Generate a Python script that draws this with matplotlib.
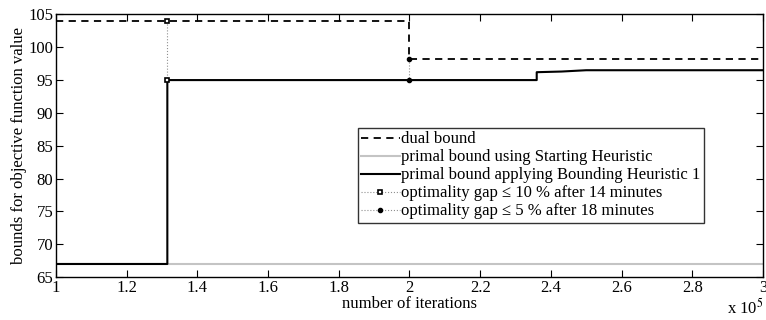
import numpy as np
import matplotlib
matplotlib.use('Agg')
import matplotlib.pyplot as plt

plt.rcParams['font.family'] = ['Liberation Serif', 'DejaVu Serif']
plt.rcParams['mathtext.fontset'] = 'stix'

# iterations in units of 1e5
dual_x = [1.0, 2.0, 2.0, 3.0]
dual_y = [104.0, 104.0, 98.2, 98.2]

start_x = [1.0, 3.0]
start_y = [67.0, 67.0]

bound_x = [1.0, 1.315, 1.315, 2.36, 2.36, 2.43, 2.50, 3.0]
bound_y = [67.0, 67.0, 95.0, 95.0, 96.2, 96.3, 96.5, 96.5]

gap10_x = [1.315, 1.315]
gap10_y = [104.0, 95.0]
gap5_x = [2.0, 2.0]
gap5_y = [98.2, 95.0]

fs = 12

fig = plt.figure(figsize=(7.66, 3.2), dpi=100)
ax = fig.add_axes([0.0731, 0.134, 0.9229, 0.821])

ax.plot(dual_x, dual_y, 'k--', lw=1.3, dashes=(4, 3), label='dual bound')
ax.plot(start_x, start_y, color='#c4c4c4', lw=1.5, label='primal bound using Starting Heuristic')
ax.plot(bound_x, bound_y, 'k-', lw=1.5, label='primal bound applying Bounding Heuristic 1')
ax.plot(gap10_x, gap10_y, ':', color='#909090', lw=0.8, marker='s', ms=3.5,
        mfc='white', mec='k', mew=1.2, label=u'optimality gap \u2264 10 % after 14 minutes')
ax.plot(gap5_x, gap5_y, ':', color='#909090', lw=0.8, marker='o', ms=3,
        mfc='k', mec='k', label=u'optimality gap \u2264 5 % after 18 minutes')

ax.set_xlim(1, 3)
ax.set_ylim(65, 105)
ax.set_xticks(np.arange(1, 3.01, 0.2))
ax.set_xticklabels(['1', '1.2', '1.4', '1.6', '1.8', '2', '2.2', '2.4', '2.6', '2.8', '3'])
ax.set_yticks(np.arange(65, 106, 5))
ax.tick_params(direction='in', top=True, right=True, labelsize=fs, length=5, width=0.8, pad=2)
for s in ax.spines.values():
    s.set_linewidth(1.0)

ax.set_xlabel('number of iterations', fontsize=fs, labelpad=0)
ax.set_ylabel('bounds for objective function value', fontsize=fs, labelpad=1)
fig.text(0.949, 0.018, r'x 10$^5$', fontsize=fs)

leg = ax.legend(loc='upper left', bbox_to_anchor=(0.427, 0.567), fontsize=fs,
                handlelength=2.3, handletextpad=0.1, borderpad=0.2, labelspacing=0.12,
                borderaxespad=0, frameon=True, fancybox=False, edgecolor='k')
leg.get_frame().set_linewidth(1.0)

fig.savefig('out.png', dpi=100)
